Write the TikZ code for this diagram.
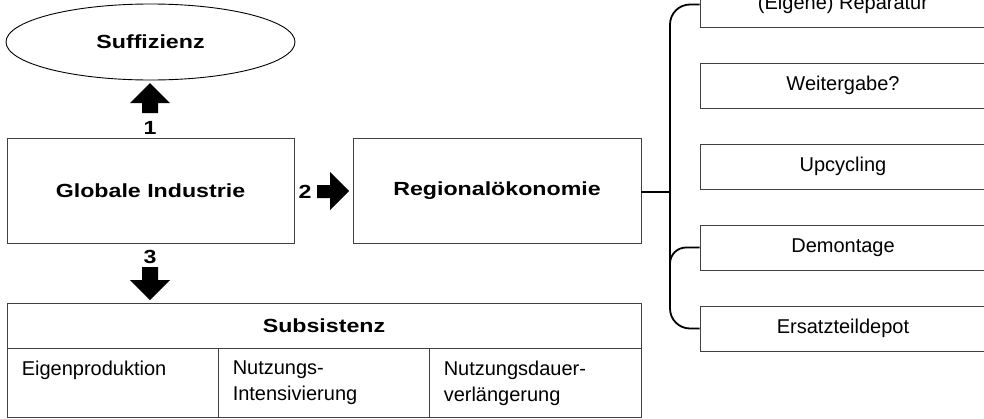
\documentclass[tikz,border=0pt]{standalone}
\usepackage{fontspec}
\setmainfont{Liberation Sans}
\newfontfamily\hbold[FakeStretch=1.22]{Liberation Sans}
\usetikzlibrary{shapes.geometric}
\begin{document}
\begin{tikzpicture}[x=1pt,y=-1pt,
  box/.style={draw=black!75, line width=0.9pt, inner sep=0pt},
  bx/.style={font=\hbold\bfseries\fontsize{19}{23}\selectfont},
  rg/.style={font=\fontsize{20}{24}\selectfont},
  celltext/.style={rg, align=left, anchor=north west, inner sep=0pt, font=\fontsize{20}{26}\selectfont},
  brace/.style={draw=black, line width=1.8pt},
  blockarrow/.style={fill=black, draw=none},
  num/.style={bx, inner sep=0pt}]
\useasboundingbox (0,0) rectangle (984,418);
\clip (0,0) rectangle (984,418);
% top ellipse
\node[box, draw=black, ellipse, minimum width=289pt, minimum height=76pt, bx] (suf) at (150.5,42) {Suffizienz};
% main boxes
\node[box, minimum width=287pt, minimum height=105pt, bx] (gi) at (150.5,190.5) {Globale Industrie};
\node[box, minimum width=288pt, minimum height=105pt, bx] (reg) at (497,190.5) {Regionalökonomie};
% right boxes
\node[box, minimum width=286pt, minimum height=45pt, rg] (r1) at (843,4.5) {(Eigene) Reparatur};
\node[box, minimum width=286pt, minimum height=45pt, rg] (r2) at (843,85.5) {Weitergabe?};
\node[box, minimum width=286pt, minimum height=45pt, rg] (r3) at (843,166.5) {Upcycling};
\node[box, minimum width=286pt, minimum height=45pt, rg] (r4) at (843,247.5) {Demontage};
\node[box, minimum width=286pt, minimum height=45pt, rg] (r5) at (843,328.5) {Ersatzteildepot};
% table
\node[box, minimum width=634pt, minimum height=45pt, bx] (sub) at (324,325.5) {Subsistenz};
\node[box, minimum width=211pt, minimum height=69pt] (c1) at (112.5,382.5) {};
\node[box, minimum width=211pt, minimum height=69pt] (c2) at (323.5,382.5) {};
\node[box, minimum width=212pt, minimum height=69pt] (c3) at (535,382.5) {};
\node[celltext] (t1) at ([shift={(15,13)}]c1.north west) {Eigenproduktion};
\node[celltext] (t2) at ([shift={(15,13)}]c2.north west) {Nutzungs-\\Intensivierung};
\node[celltext] (t3) at ([shift={(15,13)}]c3.north west) {Nutzungsdauer-\\verlängerung};
% numbers
\node[num] (n1) at (150,127.5) {1};
\node[num] (n2) at (305,192) {2};
\node[num] (n3) at (150,257) {3};
% block arrows
\fill[blockarrow] (142,113) -- (142,103) -- (130,103) -- (150,83) -- (170,103) -- (158,103) -- (158,113) -- cycle;
\fill[blockarrow] (317,185) -- (330,185) -- (330,172) -- (349,191) -- (330,210) -- (330,198) -- (317,198) -- cycle;
\fill[blockarrow] (142,267) -- (158,267) -- (158,280) -- (170,280) -- (150,300) -- (130,280) -- (142,280) -- cycle;
% brace connector
\coordinate (bj) at (670,192);
\draw[brace] (reg.east |- bj) -- (bj);
\draw[brace, rounded corners=20pt] (r1.west) -- (r1.west -| bj) -- (r5.west -| bj) -- (r5.west);
\draw[brace, rounded corners=16pt] ([yshift=-30pt]r4.west -| bj) -- (r4.west -| bj) -- (r4.west);
\end{tikzpicture}
\end{document}
